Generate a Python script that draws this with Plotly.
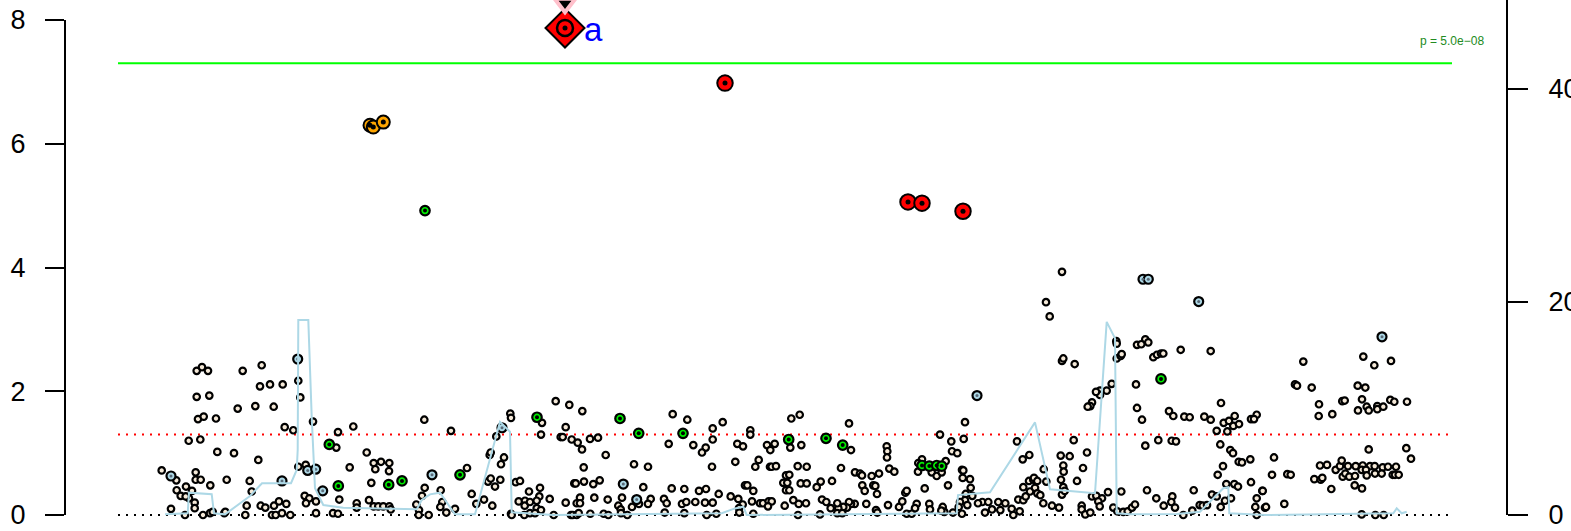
import plotly.graph_objects as go

# ---------------- data (positions in kb-like units, -log10 p) ----------------
cream_pos = [196.7,202,208,242.7,261.7,260,270,282.7,298.3,300.3,196.7,209.3,237.7,255.3,273.7,198,203.7,216,284.7,293.3,313,338,188.7,200.3,336.3,217.3,234,258.3,161.7,176.3,186,176.7,180.7,189,192,185.7,194.7,194.7,195.7,195.7,200.7,210.3,226.7,249.7,251.7,171,185,203,210,212.7,224.3,225.3,246.7,245.3,260.7,265.3,274,279,286.3,272,275.7,282,290.3,298.3,305.7,304.7,309.3,306,316,316,333,338,339.3,
 353.3,366.7,373.7,381,389.3,375.3,389,349.7,371.3,369,356.7,356.7,373.7,378.3,383.3,389.3,390.7,424.3,451,467,424.7,422,440.7,416.3,419,418.7,428.7,442.3,440.3,446.3,455,471.7,476.3,484,492.3,488,490.7,495,500.3,489.7,490.7,504,501,496.3,510.3,511,511,511.7,515.7,520,529,540,539.3,518.7,525,524.7,530,536.7,536.7,541,524.3,530,535,549.7,553.7,565.7,571,555.7,569.3,542,541,565.7,560.7,562.7,571.7,574.3,
 582.3,577.7,582,590,598,605.7,672.7,687.3,668.7,693.3,705.7,702,712.7,712.7,722.7,737.3,743,750.3,750.3,767,774.7,770.3,791.3,799.7,790.3,801.3,583.7,634,648,712,735.3,758.7,755.3,770,771.7,776,797.7,786,789.3,783.3,787.3,786,789.3,800.7,575.7,584,593.3,599.7,643.3,671.7,684.3,699,706,718.7,730.7,745,747.3,753.3,580,594.3,607.7,622,650.7,664,666.7,682,686.3,695.3,705,712.7,738.3,742.7,752,760,763,768.7,771.7,768,784.7,793.3,798.7,576.7,580,618.3,620.7,632,639,648,572.7,576.7,578.7,590.3,603.7,608.3,621,627.3,664.7,684.3,706.7,716.3,739,739.3,753.3,798,
 849,851,806.7,806.7,820.7,816.7,832,841,855,860,862,871.7,879,862.3,864.7,873.3,875.3,877,886.7,887.3,887,889.3,894.3,905.3,906.7,924.7,940,951.3,963.7,965,952,957.3,945.7,922,918.3,918,931.7,936.7,941.7,962,963.3,962.7,970,948,970.7,965.7,972.3,965,960,958.7,962,967.3,953,942.7,944.3,941.3,929.3,930,916.7,915,899,902.3,906.7,911.7,888,876,877.3,866.3,854.7,851,849,847,843.3,838.3,837.3,842.3,822,826.3,830.7,837.3,820,806,982.3,988.3,978,992,998.3,1000.3,1005.3,985,1013.3,1011.7,1019.7,1018.3,1023.3,1025.7,1017,1022.7,1029.3,1029,1023.3,1030,1033.3,
 1062,1046,1049.7,1062,1063.3,1074.7,1116.3,1116.7,1116.7,1120.7,1121.7,1137,1145.3,1148.3,1141.3,1153.3,1157,1161,1163.3,1180.7,1210.7,1111.7,1106.7,1100,1100,1096,1092,1090.3,1087.7,1136,1137,1142,1169,1173.3,1184.3,1189.7,1204.3,1210.7,1221,1223.7,1229,1234.7,1233.3,1239,1227.3,1216.7,1251,1256.7,1254,1073.7,1158.3,1171.7,1176,1145.3,1220.3,1230.3,1233,1238.7,1242,1250.3,1223,1217.7,1060.7,1069.7,1063.3,1063.7,1061,1063.3,1062,1064.7,1087,1083,1077,1043.7,1034,1037.3,1046.3,1035,1037.3,1040.3,1043.3,1052,1059,1092,1096.3,1102,1098.3,1099.7,1081.7,1081.7,1085.3,1090.3,1108,1121.3,1113.3,1117.3,1123.3,1127.7,1132,1135,1147,1156.3,1163.7,1172.3,1171.3,1175,1183.3,1193.7,1192.3,1199.7,1202.7,1207,1212,1216.7,1225,1220.7,1231,1226.3,1234.3,1238,1251,1262.3,1256.7,1255.3,1256.7,1265,
 1363.3,1374.3,1391,1303.3,1295,1297,1311.7,1357.7,1365.3,1319,1318.7,1332.3,1342.3,1344.7,1362,1358,1366.7,1368.7,1377.3,1377.3,1383.3,1390.3,1394.3,1407,1406.3,1411,1368.7,1274,1272,1287.3,1290.7,1262.7,1266,1284.3,1314.3,1320.7,1322.3,1331.3,1320,1327,1335.7,1340,1341.7,1348,1355.7,1362.7,1370,1374.7,1382.7,1388,1396,1342.7,1345.3,1349.3,1355,1361.7,1366,1366.7,1375,1381.7,1392.7,1395,1398.7,1354.7,1362,1361.7,1375.3,1383.7]
cream_logp = [2.33,2.39,2.33,2.33,2.42,2.08,2.11,2.11,2.17,1.90,1.91,1.93,1.72,1.76,1.75,1.55,1.59,1.56,1.42,1.37,1.51,1.34,1.20,1.22,1.09,1.02,1.00,0.89,0.72,0.56,0.46,0.40,0.31,0.27,0.39,0.30,0.20,0.11,0.69,0.57,0.57,0.48,0.57,0.55,0.38,0.10,0.00,0.00,0.03,0.05,0.03,0.05,0.15,0.00,0.15,0.12,0.15,0.22,0.18,0.00,0.00,0.03,0.00,0.78,0.81,0.31,0.27,0.19,0.22,0.03,0.03,0.02,0.25,
 1.43,1.01,0.84,0.86,0.84,0.74,0.71,0.77,0.52,0.24,0.19,0.12,0.14,0.14,0.14,0.14,0.09,1.54,1.36,0.76,0.44,0.31,0.40,0.17,0.08,0.00,0.00,0.21,0.13,0.04,0.10,0.34,0.18,0.25,0.15,0.54,0.59,0.46,0.57,0.97,1.01,0.93,0.82,1.27,1.64,1.57,0.02,0.00,0.53,0.55,0.38,0.44,0.30,0.22,0.23,0.15,0.21,0.23,0.11,0.08,0.00,0.03,0.03,0.26,0.00,0.20,0.00,1.84,1.78,1.49,1.30,1.42,1.26,1.26,1.22,0.51,
 1.68,1.17,1.06,1.23,1.25,0.97,1.63,1.54,1.15,1.13,1.09,1.01,1.40,1.22,1.50,1.15,1.11,1.37,1.30,1.13,1.15,1.05,1.56,1.62,1.09,1.13,0.77,0.82,0.78,0.78,0.86,0.89,0.78,0.78,0.78,0.79,0.79,0.64,0.65,0.52,0.52,0.40,0.40,0.51,0.51,0.54,0.50,0.56,0.45,0.43,0.42,0.39,0.42,0.34,0.30,0.48,0.48,0.39,0.28,0.28,0.25,0.28,0.26,0.26,0.19,0.18,0.21,0.21,0.20,0.20,0.26,0.17,0.22,0.19,0.19,0.22,0.22,0.14,0.15,0.24,0.18,0.19,0.19,0.15,0.09,0.13,0.18,0.18,0.00,0.00,0.03,0.02,0.02,0.00,0.03,0.00,0.04,0.03,0.00,0.02,0.11,0.04,0.02,0.00,
 1.48,1.05,0.78,0.51,0.54,0.45,0.55,0.76,0.69,0.67,0.64,0.63,0.67,0.48,0.39,0.48,0.47,0.34,1.11,1.03,0.93,0.75,0.70,0.36,0.39,0.43,1.30,1.19,1.23,1.50,1.03,1.00,0.87,0.90,0.84,0.70,0.69,0.63,0.69,0.73,0.72,0.60,0.58,0.48,0.44,0.34,0.31,0.24,0.21,0.13,0.02,0.16,0.04,0.13,0.05,0.07,0.18,0.09,0.18,0.11,0.13,0.22,0.02,0.02,0.16,0.08,0.04,0.18,0.18,0.18,0.21,0.12,0.13,0.11,0.03,0.03,0.25,0.21,0.11,0.19,0.01,0.19,0.21,0.21,0.19,0.09,0.21,0.08,0.19,0.04,0.00,0.10,0.06,0.25,0.24,0.30,1.19,0.90,0.97,0.55,0.45,0.38,0.57,
 3.93,3.44,3.21,2.49,2.53,2.44,2.81,2.77,2.53,2.57,2.60,2.75,2.84,2.79,2.76,2.55,2.59,2.61,2.61,2.67,2.65,2.12,2.01,2.01,1.94,1.99,1.82,1.76,1.75,2.11,1.73,1.54,1.68,1.60,1.59,1.58,1.59,1.54,1.81,1.49,1.52,1.60,1.44,1.47,1.35,1.36,1.55,1.62,1.55,1.21,1.21,1.20,1.19,1.12,1.14,1.05,1.00,0.86,0.85,0.90,0.79,0.65,0.96,0.95,0.80,0.70,0.57,0.45,0.33,0.39,1.01,0.76,0.55,0.74,0.60,0.55,0.54,0.44,0.35,0.32,0.19,0.15,0.12,0.30,0.31,0.27,0.22,0.14,0.15,0.09,0.01,0.04,0.37,0.38,0.12,0.06,0.05,0.06,0.12,0.17,0.40,0.27,0.15,0.30,0.21,0.12,0.00,0.40,0.07,0.16,0.15,0.16,0.33,0.30,0.23,0.13,0.27,0.50,0.50,0.46,0.53,0.39,0.27,0.13,0.00,0.12,
 2.56,2.42,2.49,2.48,2.11,2.09,2.06,2.09,2.06,1.79,1.60,1.63,1.84,1.85,1.87,1.69,1.75,1.69,1.76,1.71,1.75,1.86,1.83,1.83,1.08,0.91,1.06,0.93,0.65,0.66,0.65,0.39,0.13,0.18,0.58,0.57,0.60,0.42,0.80,0.81,0.73,0.79,0.88,0.79,0.79,0.80,0.79,0.79,0.77,0.78,0.78,0.62,0.67,0.62,0.63,0.73,0.73,0.64,0.67,0.67,0.65,0.65,0.65,0.48,0.43,0.01,0.00,0.00]

blue_pos = [297.7,171,282,307.7,315.7,322.7,432,502,623.3,636.7,977,1143,1148.3,1198.7,1382]
blue_logp = [2.52,0.63,0.55,0.72,0.74,0.39,0.65,1.41,0.50,0.25,1.93,3.81,3.81,3.45,2.88]

green_pos = [329.3,338.3,388.7,402,460,425,537,620,638.7,683,788.7,826,842.7,922,929.3,936.7,941.7,1161]
green_logp = [1.14,0.47,0.49,0.55,0.65,4.92,1.58,1.56,1.32,1.32,1.22,1.24,1.13,0.80,0.79,0.80,0.79,2.20]

orange_pos = [370,373.3,383.3]
orange_logp = [6.30,6.27,6.35]

red_pos = [725,908,922,963]
red_logp = [6.98,5.06,5.04,4.91]

lead_pos = [565]
lead_logp = [7.87]
lead_label = "a"
repl_logp = [8.27]
repl_text = "Prop (P = 1.2e\u221208)"

recomb_pos = [165,187.7,189,211.7,214,225,250,262,291,296.7,297.7,298.3,308.3,311.7,315,323.3,343.3,416.7,421.7,430,440,450,455,475,486.7,500,510,511.7,553.3,721.7,735,743.3,746.7,956.7,958,990,1035,1050,1095,1106.7,1115,1116.7,1130,1176.7,1200,1223.3,1228.3,1229.3,1265,1361.7,1393.3,1396.7,1401.7,1406.7]
recomb_rate = [0.06,0.16,2.10,1.95,0.16,0.06,1.78,2.98,2.98,4.23,6.10,18.31,18.31,9.23,2.51,0.94,0.69,0.53,1.41,1.94,2.10,0.79,0.06,0.06,4.23,8.75,7.82,0.26,0.0,0.16,0.62,0.78,0.0,0.16,1.87,2.13,8.70,2.42,2.04,18.13,16.60,0.16,0.06,0.09,0.31,2.51,2.60,0.16,0.0,0.16,0.16,0.62,0.16,0.31]

region_start, region_end = 118, 1452
gw_sig = 7.30103   # -log10(5e-08)
nominal = 1.30103  # -log10(0.05)

left_ticks = [0, 2, 4, 6, 8]
right_ticks = [0, 20, 40]

FONT = "Liberation Sans, Arial, Helvetica, sans-serif"

fig = go.Figure()

fig.add_trace(go.Scatter(x=recomb_pos, y=recomb_rate, yaxis="y2", mode="lines",
                         line=dict(color="#ADD8E6", width=2), hoverinfo="skip"))

def pts(xs, ys, fill, size, dot=None, dotsize=0, lw=2):
    fig.add_trace(go.Scatter(x=xs, y=ys, mode="markers",
                             marker=dict(color=fill, size=size, line=dict(color="black", width=lw))))
    if dot:
        fig.add_trace(go.Scatter(x=xs, y=ys, mode="markers",
                                 marker=dict(color=dot, size=dotsize, line=dict(width=0)), hoverinfo="skip"))

pts(cream_pos, cream_logp, "#F5E9D8", 6.5, lw=2.2)
pts(blue_pos, blue_logp, "#ADD8E6", 9, "#5a6a78", 3, lw=2.2)
pts(green_pos, green_logp, "#00EE00", 9.5, "black", 4, lw=2.2)
pts(orange_pos, orange_logp, "#FFA500", 13, "black", 5)
pts(red_pos, red_logp, "#FF0000", 15.5, "black", 5)

# lead SNP: diamond + circle
fig.add_trace(go.Scatter(x=lead_pos, y=lead_logp, mode="markers",
                         marker=dict(symbol="diamond", color="#FF0000", size=30, line=dict(color="black", width=2))))
fig.add_trace(go.Scatter(x=lead_pos, y=lead_logp, mode="markers",
                         marker=dict(color="#FF0000", size=16, line=dict(color="black", width=2.5))))
fig.add_trace(go.Scatter(x=lead_pos, y=lead_logp, mode="markers",
                         marker=dict(color="black", size=5)))
# replication triangle
fig.add_trace(go.Scatter(x=lead_pos, y=repl_logp, mode="markers",
                         marker=dict(symbol="triangle-down", color="black", size=18,
                                     line=dict(color="#FFC0CB", width=4))))

shapes = [
    dict(type="line", xref="x", yref="y", x0=region_start, x1=region_end, y0=gw_sig, y1=gw_sig,
         line=dict(color="#00FF00", width=2), layer="below"),
    dict(type="line", xref="x", yref="y", x0=region_start, x1=region_end, y0=nominal, y1=nominal,
         line=dict(color="#FF0000", width=2, dash="2px,6px"), layer="below"),
    dict(type="line", xref="x", yref="y", x0=region_start, x1=region_end, y0=0, y1=0,
         line=dict(color="black", width=2, dash="2px,6px"), layer="below"),
    dict(type="line", xref="paper", yref="y", x0=0, x1=0, y0=left_ticks[0], y1=left_ticks[-1],
         line=dict(color="black", width=2)),
    dict(type="line", xref="paper", yref="y2", x0=1, x1=1, y0=right_ticks[0], y1=60,
         line=dict(color="black", width=2)),
]

annotations = [
    dict(x=region_end, y=7.66, xref="x", yref="y", text="p = 5.0e\u221208", showarrow=False,
         font=dict(family=FONT, size=12, color="#228B22"), xanchor="center", yanchor="middle"),
    dict(x=lead_pos[0] + 17, y=lead_logp[0] - 0.02, xref="x", yref="y", text=lead_label, showarrow=False,
         font=dict(family=FONT, size=33, color="#0000FF"), xanchor="left", yanchor="middle"),
    dict(x=lead_pos[0] + 42, y=8.34, xref="x", yref="y", text=repl_text, showarrow=False,
         font=dict(family=FONT, size=12, color="#222222"), xanchor="left", yanchor="middle"),
]

fig.update_layout(
    width=1571, height=531,
    margin=dict(l=65, r=64, t=0, b=0, autoexpand=False),
    plot_bgcolor="white", paper_bgcolor="white",
    showlegend=False,
    shapes=shapes, annotations=annotations,
    xaxis=dict(range=[65, 1507], visible=False, showgrid=False, zeroline=False),
    yaxis=dict(range=[-16 / 61.875, 515 / 61.875], tickvals=left_ticks, ticks="outside", ticklen=19,
               tickwidth=2, tickcolor="black", showgrid=False, zeroline=False, showline=False,
               automargin=False,
               tickfont=dict(family=FONT, size=27, color="black"), ticklabelstandoff=14),
    yaxis2=dict(range=[-16 / 10.65, 515 / 10.65], overlaying="y", side="right", tickvals=right_ticks,
                ticks="outside", ticklen=20, tickwidth=2, tickcolor="black", showgrid=False,
                zeroline=False, showline=False, automargin=False,
                tickfont=dict(family=FONT, size=27, color="black"), ticklabelstandoff=15),
)

fig.write_html("out.html", config={"displayModeBar": False},
               post_script="document.body.style.margin='0';document.body.style.overflow='hidden';")
